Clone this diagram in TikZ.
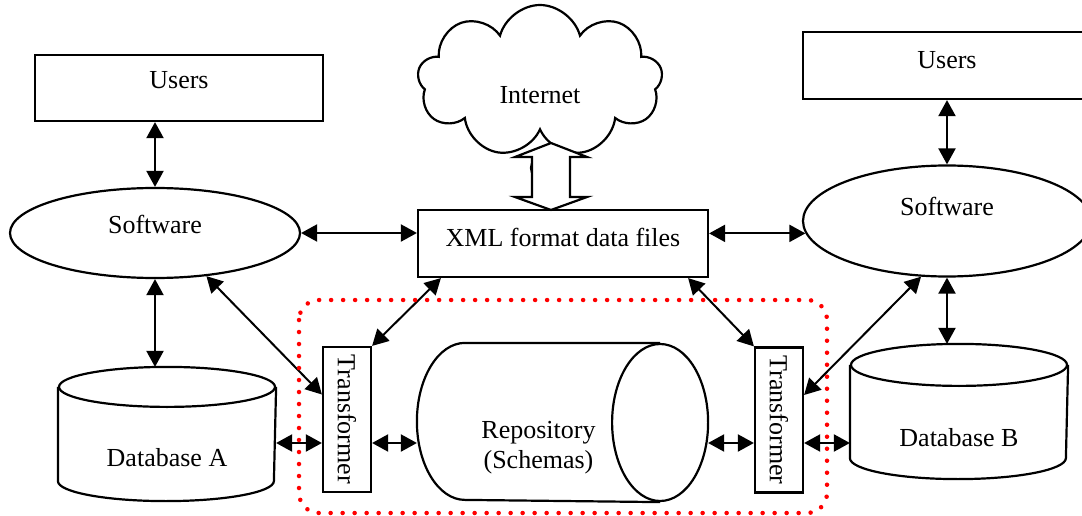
\documentclass[tikz,border=0pt]{standalone}
\usepackage{fontspec}
\setmainfont{Liberation Serif}
\usetikzlibrary{shapes.geometric,shapes.symbols,arrows.meta}

\begin{document}
\begin{tikzpicture}[x=1pt,y=-1pt,
    font=\fontsize{26}{30}\selectfont,
    line width=2.2pt,
    boite/.style={draw, rectangle, inner sep=0pt},
    logiciel/.style={draw, ellipse, inner sep=0pt},
    monte/.style={text height=18pt, text depth=#1},
    base/.style={rectangle, inner sep=0pt},
    transfo/.style={draw, rectangle, minimum width=48pt, minimum height=145pt, inner sep=0pt},
    fleche/.style={{Triangle[length=16pt,width=17pt]}-{Triangle[length=16pt,width=17pt]}, line width=2pt}]
  \useasboundingbox (0,0) rectangle (1082,516);
  \coordinate (rangee) at (0,443); % ligne des transformateurs

  \node[boite, monte=16.8pt, minimum width=288pt, minimum height=66pt] (usersA) at (179,88) {Users};
  \node[logiciel, monte=16.8pt, minimum width=290pt, minimum height=90pt] (swA) at (155,233) {Software};
  \node[base, minimum width=216pt, minimum height=132pt,
        label={[yshift=-24pt]center:Database A}] (dbA) at (167,434) {};
  \draw ([yshift=-20pt]dbA.north west) -- ([yshift=20pt]dbA.south west)
    arc[start angle=180, end angle=360, x radius=108pt, y radius=20pt] -- ([yshift=-20pt]dbA.north east);
  \draw ([yshift=-20pt]dbA.north) ellipse[x radius=108pt, y radius=20pt];

  \node[boite, monte=11.8pt, minimum width=290pt, minimum height=67pt] (xml) at (563,243.5) {XML format data files};
  \node[draw, circle, minimum size=22pt] (bulle) at (542,168) {};
  \node[draw, cloud, cloud puffs=9, aspect=1.6, minimum width=245pt, minimum height=152pt,
        label={[yshift=-14pt]center:Internet}] (web) at (540,81) {};
  \draw[fill=white] (551,143) -- (587,157) -- (570,157) -- (570,197) -- (587,197) -- (551,210)
    -- (515,197) -- (532,197) -- (532,157) -- (515,157) -- cycle; % fleche double

  \node[boite, monte=11.8pt, minimum width=288pt, minimum height=67pt] (usersB) at (947,65.5) {Users};
  \node[logiciel, monte=28.8pt, minimum width=288pt, minimum height=111pt] (swB) at (947,221) {Software};
  \node[base, minimum width=216pt, minimum height=133pt,
        label={[yshift=-26pt]center:Database B}] (dbB) at (959,411.5) {};
  \draw ([yshift=-21pt]dbB.north west) -- ([yshift=21pt]dbB.south west)
    arc[start angle=180, end angle=360, x radius=108pt, y radius=21pt] -- ([yshift=-21pt]dbB.north east);
  \draw ([yshift=-21pt]dbB.north) ellipse[x radius=108pt, y radius=21pt];

  \node[transfo, label={[rotate=-90]center:Transformer}] (tL) at (347,419.5) {};
  \node[transfo, label={[rotate=-90]center:Transformer}] (tR) at (779,420) {};
  \node[base, minimum width=289pt, minimum height=157pt,
        label={[xshift=-24pt, yshift=-25pt, align=center]center:Repository\\(Schemas)}] (repo) at (562.5,422.5) {};
  \draw ([xshift=-48pt]repo.north east) -- ([xshift=48pt]repo.north west)
    arc[start angle=90, end angle=270, x radius=48pt, y radius=78.5pt] -- ([xshift=-48pt]repo.south east);
  \draw ([xshift=-48pt]repo.east) ellipse[x radius=48pt, y radius=78.5pt];

  \draw[fleche] (swA.north |- usersA.south) -- (swA.north);
  \draw[fleche] (swA.south) -- (swA.south |- dbA.north);
  \draw[fleche] (swA.east) -- (swA.east -| xml.west);
  \draw[fleche] (xml.east |- swB.185) -- (swB.185);
  \draw[fleche] (swB.north) -- (usersB.south);
  \draw[fleche] (swB.south) -- (swB.south |- dbB.north);
  \draw[fleche] ([xshift=24pt]xml.south west) -- (tL.north east);
  \draw[fleche] ([xshift=-21pt]xml.south east) -- (tR.north west);
  \draw[fleche] (swA.-40) -- ([yshift=25pt]tL.west);
  \draw[fleche] (swB.-115) -- ([yshift=25pt]tR.east);
  \draw[fleche] (tL.west |- rangee) -- (dbA.east |- rangee);
  \draw[fleche] (tL.east |- rangee) -- (repo.west |- rangee);
  \draw[fleche] (tR.west |- rangee) -- (repo.east |- rangee);
  \draw[fleche] (tR.east |- rangee) -- (dbB.west |- rangee);

  \draw[red, line width=4.5pt, line cap=round, dash pattern=on 0pt off 12pt, rounded corners=20pt]
    (299,300) rectangle (827,513); % cadre en pointilles
\end{tikzpicture}
\end{document}
